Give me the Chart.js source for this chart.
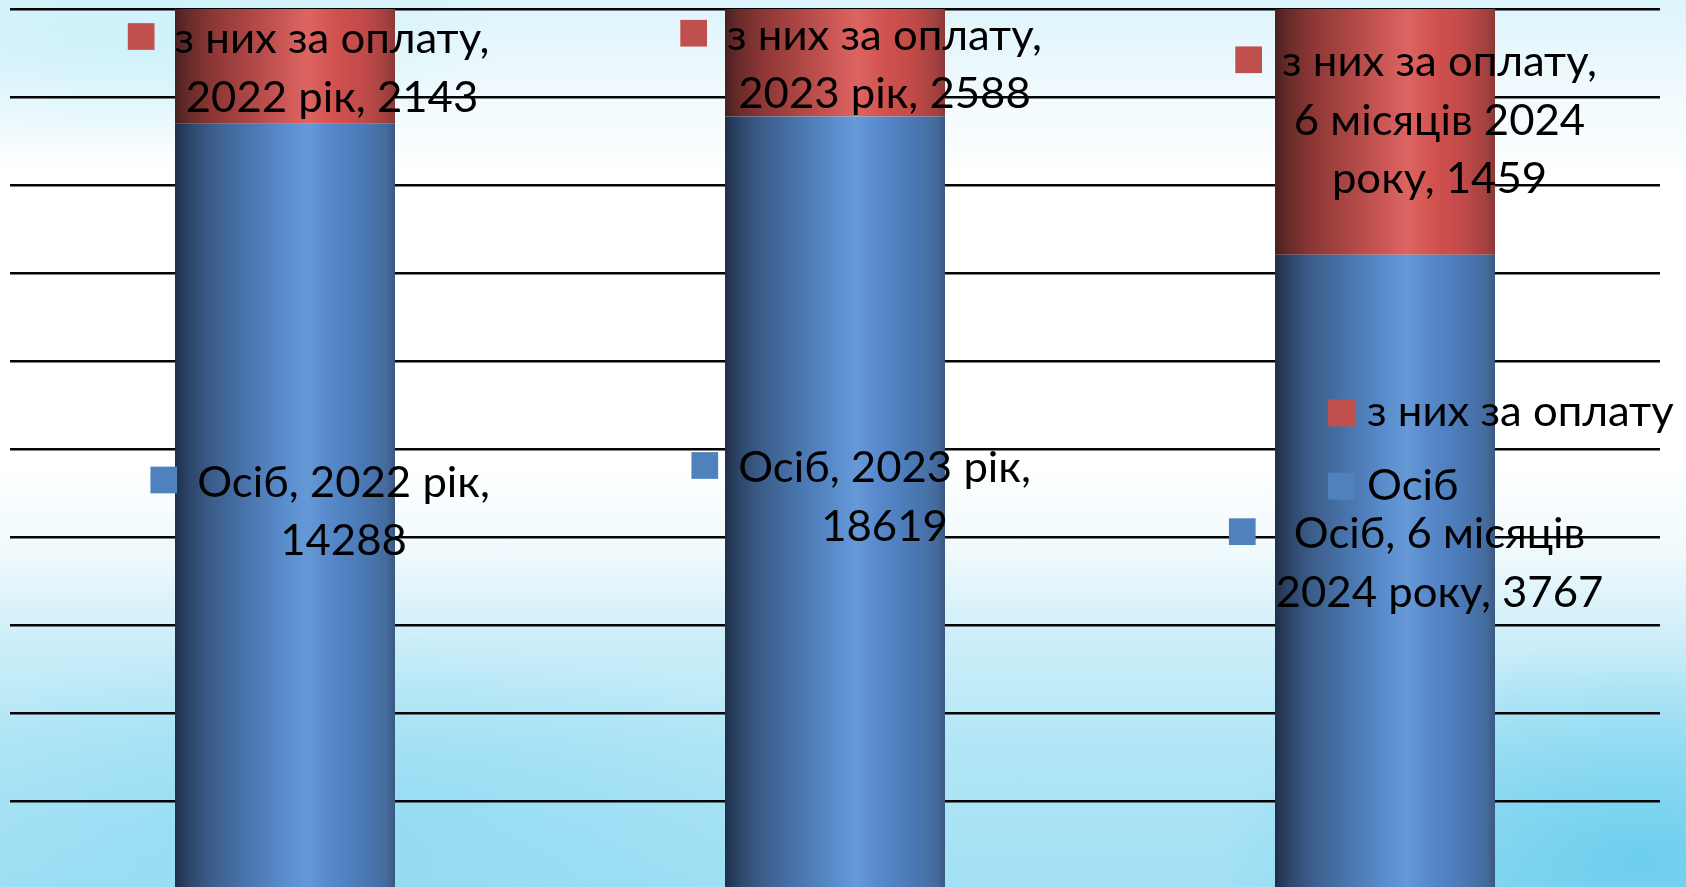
<!DOCTYPE html>
<html>
<head>
<meta charset="utf-8">
<style>
html, body { margin: 0; padding: 0; overflow: hidden; width: 1686px; height: 887px; }
#wrap {
  position: relative; width: 1686px; height: 887px; overflow: hidden;
  background:
    radial-gradient(ellipse 420px 220px at 1640px 860px, rgba(90,200,235,0.75), rgba(90,200,235,0) 100%),
    radial-gradient(ellipse 500px 200px at 350px 830px, rgba(120,210,240,0.45), rgba(120,210,240,0) 100%),
    radial-gradient(ellipse 380px 120px at 120px 40px, rgba(200,240,250,0.8), rgba(200,240,250,0) 100%),
    linear-gradient(to bottom, #dcf4fb 0%, #eef9fd 9%, #ffffff 20%, #ffffff 52%, #f0fafd 62%, #cdeef9 72%, #b2e6f6 84%, #a2e0f4 100%);
}
canvas { position: absolute; left: 0; top: 0; }
</style>
<script src="https://cdn.jsdelivr.net/npm/chart.js"></script>
</head>
<body>
<div id="wrap"><canvas id="mycanvas" width="1686" height="900"></canvas></div>
<script>
var categories = ['2022 рік', '2023 рік', '6 місяців 2024 року'];
var seriesNames = ['Осіб', 'з них за оплату'];
var persons = [14288, 18619, 3767];
var paid = [2143, 2588, 1459];
var yTicks = [0, 10, 20, 30, 40, 50, 60, 70, 80, 90, 100];

// label placement tweaks, [dx, dy] from the segment centre
var labelShift = [
  [[58.5, 4.8], [49.5, -6], [54.5, -9]],
  [[47, 1], [49.5, 1.4], [54.5, -12]]
];

var FONT = '42px Lato';
var LINE_H = 58.5;
var REF_W = 315; // width of "з них за оплату," in the picture

var blueStops = [[0, '#1f2f48'], [0.06, '#2c4468'], [0.16, '#3b5c89'], [0.32, '#4873ab'], [0.5, '#5a8dcc'], [0.6, '#6699d6'], [0.7, '#5789cb'], [0.86, '#4a78b4'], [0.96, '#456b9d'], [1, '#3a5882']];
var redStops = [[0, '#4a2020'], [0.06, '#672b2a'], [0.16, '#8a3634'], [0.32, '#a94543'], [0.5, '#cc5856'], [0.6, '#dc6562'], [0.72, '#d2524f'], [0.86, '#c04a48'], [0.96, '#a24140'], [1, '#8a3836']];

var totals = persons.map(function (v, i) { return v + paid[i]; });
var personsPct = persons.map(function (v, i) { return v / totals[i] * 100; });
var paidPct = paid.map(function (v, i) { return v / totals[i] * 100; });

function barFill(stops) {
  return function (c) {
    var chart = c.chart;
    var xs = chart.scales.x;
    if (!xs || !chart.chartArea) return stops[4][1];
    var cx = xs.getPixelForValue(c.dataIndex);
    var half = xs.width / categories.length * 0.4 / 2;
    var g = chart.ctx.createLinearGradient(cx - half, 0, cx + half, 0);
    stops.forEach(function (s) { g.addColorStop(s[0], s[1]); });
    return g;
  };
}

function wrapText(ctx, text, maxW) {
  var words = text.split(' '), lines = [], line = '';
  words.forEach(function (w) {
    var test = line ? line + ' ' + w : w;
    if (line && ctx.measureText(test).width > maxW) { lines.push(line); line = w; }
    else line = test;
  });
  lines.push(line);
  return lines;
}

var labelPlugin = {
  id: 'labels',
  afterDatasetsDraw: function (chart) {
    var ctx = chart.ctx;
    ctx.save();
    ctx.font = FONT;
    var sx = REF_W / ctx.measureText('з них за оплату,').width;
    var maxW = ctx.measureText('з них за оплату,').width * 1.095;
    ctx.fillStyle = '#000';
    ctx.textBaseline = 'alphabetic';
    chart.data.datasets.forEach(function (ds, di) {
      var meta = chart.getDatasetMeta(di);
      meta.data.forEach(function (el, i) {
        var text = ds.label + ', ' + categories[i] + ', ' + ds.raw[i];
        var lines = wrapText(ctx, text, maxW);
        var cx = el.x + labelShift[di][i][0];
        var cy = (el.y + el.base) / 2 + labelShift[di][i][1];
        var first = cy - (lines.length - 1) * LINE_H / 2 + 15;
        var wmax = 0;
        lines.forEach(function (l, k) {
          var w = ctx.measureText(l).width * sx;
          wmax = Math.max(wmax, w);
          ctx.save();
          ctx.translate(cx, first + k * LINE_H);
          ctx.scale(sx, 1);
          ctx.textAlign = 'center';
          ctx.fillText(l, 0, 0);
          ctx.restore();
        });
        ctx.fillStyle = ds.keyColor;
        ctx.fillRect(cx - wmax / 2 - 20 - 26.7, first - 30, 26.7, 26.7);
        ctx.fillStyle = '#000';
      });
    });

    // legend, top entry is the upper series
    var area = chart.chartArea;
    var order = [1, 0];
    order.forEach(function (di, k) {
      var ds = chart.data.datasets[di];
      var base = area.top + 417.4 + k * 73.3;
      var x0 = area.right - 332;
      ctx.fillStyle = ds.keyColor;
      ctx.fillRect(x0, base - 27, 27, 27);
      ctx.fillStyle = '#000';
      ctx.save();
      ctx.translate(x0 + 39, base);
      ctx.scale(sx, 1);
      ctx.textAlign = 'left';
      ctx.fillText(ds.label, 0, 0);
      ctx.restore();
    });
    ctx.restore();
  }
};

var chartdata = {
  labels: categories,
  datasets: [
    {
      label: seriesNames[0],
      data: personsPct,
      raw: persons,
      keyColor: '#4f81bd',
      backgroundColor: barFill(blueStops),
      borderWidth: 0
    },
    {
      label: seriesNames[1],
      data: paidPct,
      raw: paid,
      keyColor: '#c0504d',
      backgroundColor: barFill(redStops),
      borderWidth: 0
    }
  ]
};

var barGraph = new Chart(document.getElementById('mycanvas'), {
  type: 'bar',
  data: chartdata,
  plugins: [labelPlugin],
  options: {
    responsive: false,
    animation: false,
    categoryPercentage: 0.4,
    barPercentage: 1,
    layout: { padding: { left: 10, right: 26, top: 9, bottom: 10.4 } },
    plugins: { legend: { display: false }, tooltip: { enabled: false } },
    scales: {
      x: { stacked: true, display: false },
      y: {
        stacked: true,
        min: yTicks[0],
        max: yTicks[yTicks.length - 1],
        afterBuildTicks: function (scale) { scale.ticks = yTicks.map(function (v) { return { value: v }; }); },
        ticks: { display: false },
        grid: { color: '#050505', lineWidth: 2.6, drawTicks: false },
        border: { display: false }
      }
    }
  }
});
</script>
</body>
</html>
